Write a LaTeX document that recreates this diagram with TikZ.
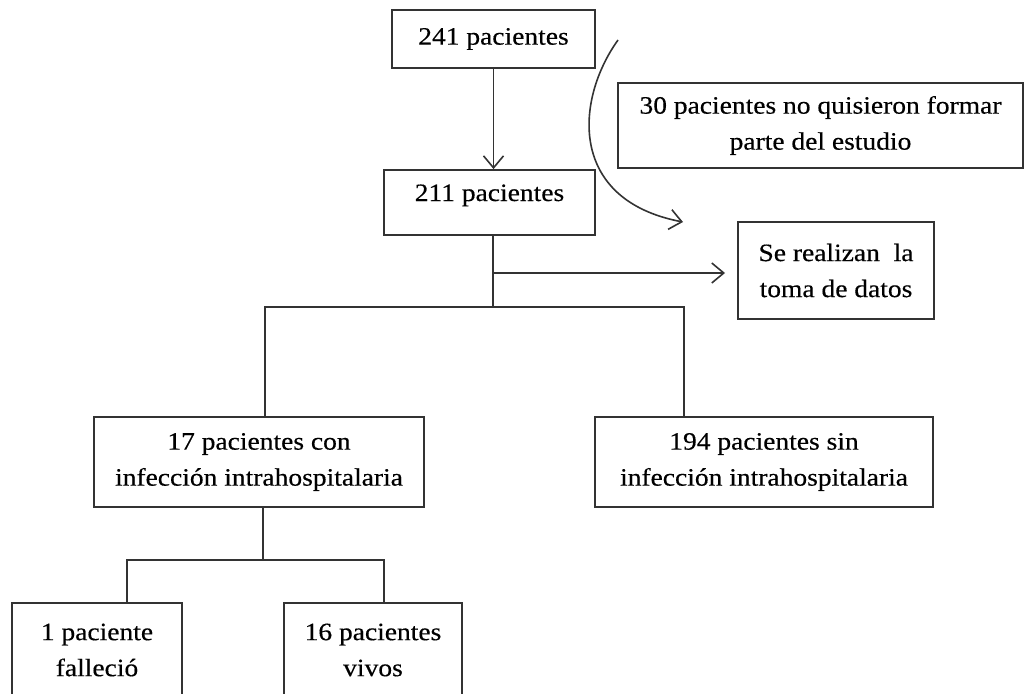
\documentclass[tikz,border=0pt]{standalone}
\usepackage{fontspec}
\setmainfont{Liberation Serif}[FakeStretch=1.1,FakeBold=0.4]
\usetikzlibrary{arrows.meta}
\begin{document}
\begin{tikzpicture}[x=1pt,y=-1pt,
  box/.style={draw=black!80, line width=1.8pt, inner sep=0pt, align=center,
    font={\fontsize{25}{36}\selectfont}},
  conn/.style={draw=black!80, line width=1.6pt},
  arr/.style={conn, -{Straight Barb[length=12pt,width=20pt,line width=1.6pt]}}]
\useasboundingbox (0,0) rectangle (1024,693);
\clip (0,0) rectangle (1024,693);

\node[box, minimum width=203pt, minimum height=58pt] (n241) at (493.5,39) {241 pacientes};
\node[box, minimum width=211pt, minimum height=65pt, text height=16pt, text depth=19pt] (n211) at (489.5,202.5) {211 pacientes};
\node[box, minimum width=405pt, minimum height=85pt] (n30) at (820.5,125.5) {30 pacientes no quisieron formar\\parte del estudio};
\node[box, minimum width=196pt, minimum height=97pt] (nse) at (836,270.5) {Se realizan\ \ la\\toma de datos};
\node[box, minimum width=330pt, minimum height=90pt] (n17) at (259,462) {17 pacientes con\\infección intrahospitalaria};
\node[box, minimum width=338pt, minimum height=90pt] (n194) at (764,462) {194 pacientes sin\\infección intrahospitalaria};
\node[box, minimum width=170pt, minimum height=94pt] (n1) at (97,650) {1 paciente\\falleció};
\node[box, minimum width=178pt, minimum height=94pt] (n16) at (373,650) {16 pacientes\\vivos};

% 241 -> 211
\draw[arr] (n241.south) -- (n241.south |- n211.north);

% curved arrow
\coordinate (cs) at (618,40);
\coordinate (ce) at (683,222);
\draw[arr] (cs) .. controls (575,100) and (568,200) .. (ce);

% trunk from 211
\coordinate (j1) at (493,307);
\draw[conn] (n211.south -| j1) -- (j1);
\coordinate (s1) at (493,273);
\coordinate (se) at (725,273);
\draw[arr] (s1) -- (se);

% branch to 17 / 194
\coordinate (bl) at (265,307);
\coordinate (br) at (684,307);
\draw[conn] (n17.north -| bl) -- (bl) -- (br) -- (n194.north -| br);

% branch to 1 / 16
\coordinate (j2) at (263,560);
\draw[conn] (n17.south -| j2) -- (j2);
\coordinate (cl) at (127,560);
\coordinate (cr) at (384,560);
\draw[conn] (n1.north -| cl) -- (cl) -- (cr) -- (n16.north -| cr);
\end{tikzpicture}
\end{document}
